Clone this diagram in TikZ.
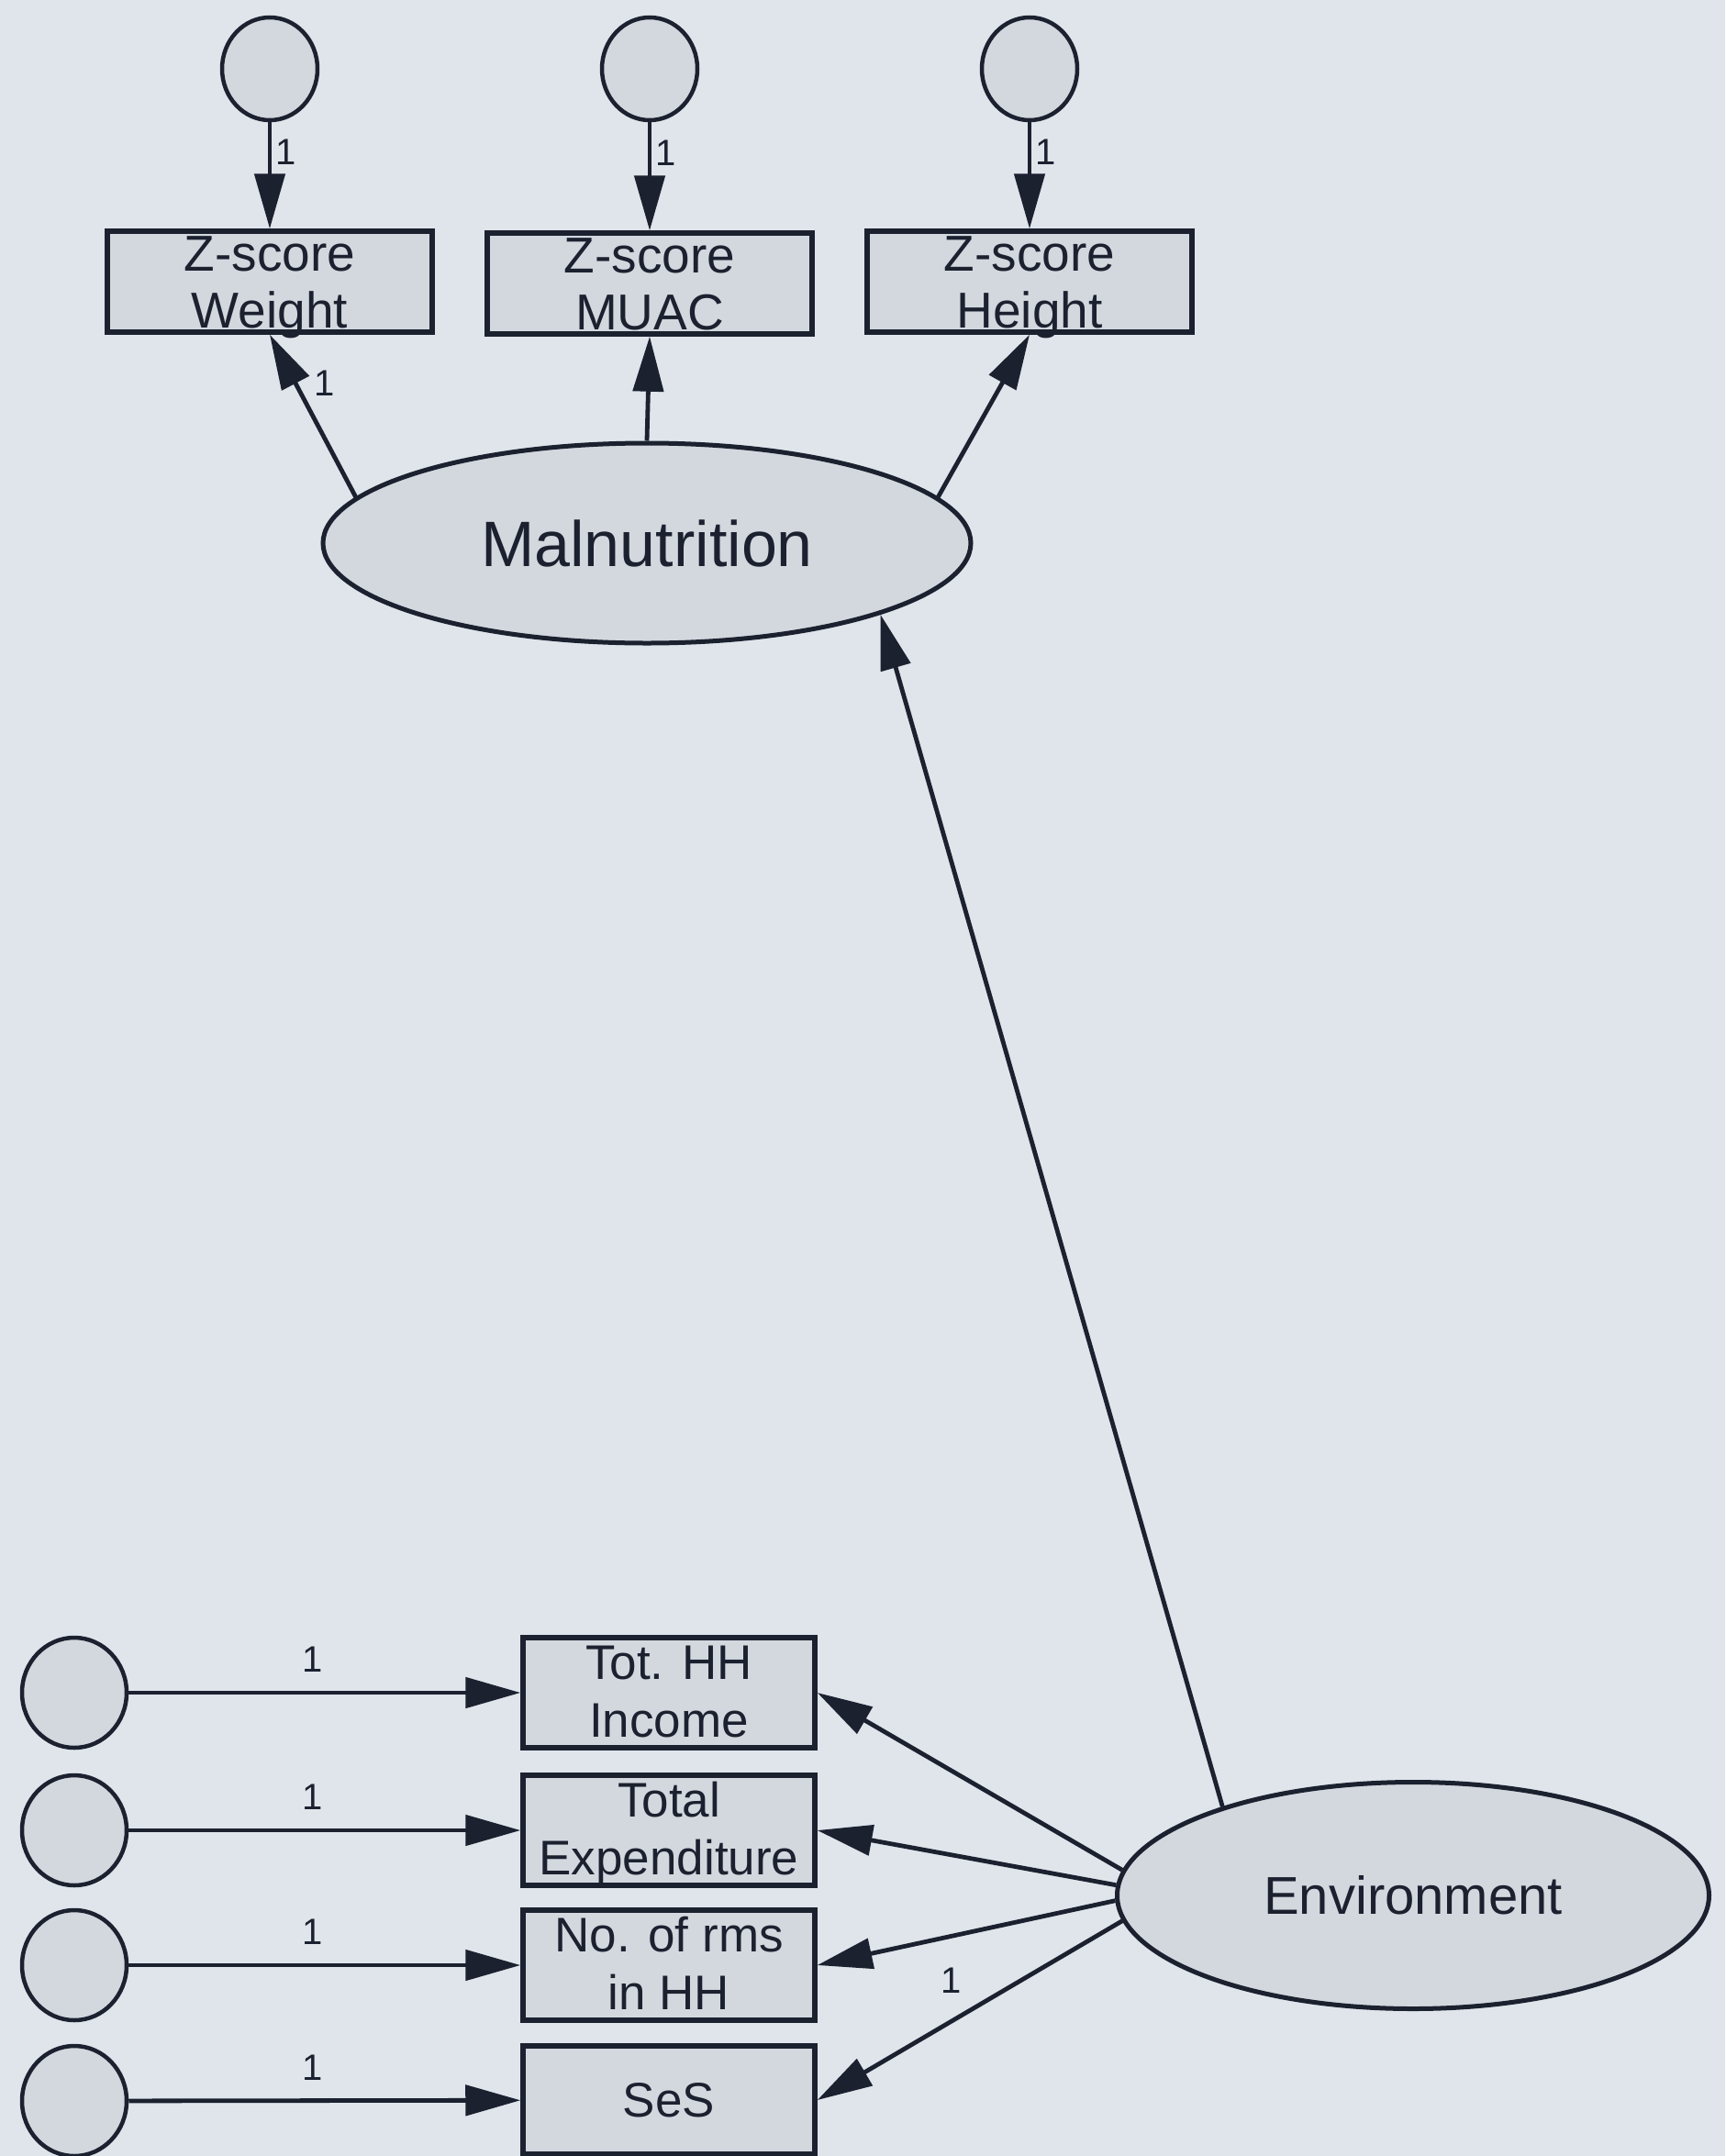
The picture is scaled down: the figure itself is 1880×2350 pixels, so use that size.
\documentclass[tikz,border=0pt]{standalone}
\usepackage{fontspec}
\setmainfont{Liberation Sans}
\usetikzlibrary{shapes.geometric,arrows.meta}
\definecolor{paper}{RGB}{223,229,235}
\definecolor{ink}{RGB}{28,33,48}
\definecolor{shade}{RGB}{211,216,223}
\newcommand{\twoline}[3][50]{\smash{\raisebox{-#1pt}{\begin{tabular}[b]{@{}c@{}}#2\\#3\end{tabular}}}}

\begin{document}
\begin{tikzpicture}[x=1pt, y=-1pt, line width=4.8pt, color=ink,
    >={Triangle[length=60pt,width=33pt]},
    obs/.style={rectangle, draw, fill=shade, line width=5.5pt, inner sep=0pt},
    top/.style={obs, minimum width=354pt, minimum height=110pt, font=\fontsize{55}{62}\selectfont},
    bot/.style={obs, minimum width=318pt, minimum height=120pt, font=\fontsize{53}{63}\selectfont},
    lat/.style={ellipse, draw, fill=shade, line width=5pt, inner sep=0pt},
    err/.style={ellipse, draw, fill=shade, line width=4.5pt, inner sep=0pt, minimum width=104pt, minimum height=112pt},
    one/.style={font=\fontsize{40}{44}\selectfont, inner sep=4pt}]
  \fill[paper] (0,0) rectangle (1880,2350);
  \useasboundingbox (0,0) rectangle (1880,2350);

  \node [err] (e1) at (294,75) {};
  \node [err] (e2) at (708,75) {};
  \node [err] (e3) at (1122,75) {};
  \node [top] (zw) at (294,307) {\twoline{Z-score}{Weight}};
  \node [top] (zm) at (708,309) {\twoline{Z-score}{MUAC}};
  \node [top] (zh) at (1122,307) {\twoline{Z-score}{Height}};
  \node [lat, minimum width=706pt, minimum height=218pt, font=\fontsize{70}{80}\selectfont] (mal) at (705,592) {Malnutrition};

  \node [lat, minimum width=645pt, minimum height=247pt, font=\fontsize{58}{66}\selectfont] (env) at (1540,2066) {Environment};
  \node [bot] (inc) at (729,1845) {\twoline[48]{Tot. HH}{Income}};
  \node [bot] (exp) at (729,1995) {\twoline[48]{Total}{Expenditure}};
  \node [bot] (rms) at (729,2142) {\twoline[48]{No. of rms}{in HH}};
  \node [bot, minimum height=118pt] (ses) at (729,2289) {SeS};
  \node [err, minimum width=114pt, minimum height=120pt] (d1) at (81,1845) {};
  \node [err, minimum width=114pt, minimum height=120pt] (d2) at (81,1995) {};
  \node [err, minimum width=114pt, minimum height=120pt] (d3) at (81,2142) {};
  \node [err, minimum width=114pt, minimum height=120pt] (d4) at (81,2290) {};

  \path [->]
  (e1) edge node [one, right, pos=0.28] {1} (zw)
  (e2) edge node [one, right, pos=0.28] {1} (zm)
  (e3) edge node [one, right, pos=0.28] {1} (zh)
  (mal.171) edge node [one, right, pos=0.7, xshift=14pt] {1} (zw.south)
  (mal.90) edge (zm.south)
  (mal.9) edge (zh.south)
  (env.155) edge (mal.343)
  (env.175) edge (inc.east)
  (env.178) edge (exp.east)
  (env.181) edge (rms.east)
  (env.185) edge node [one, above=24pt, pos=0.56] {1} (ses.east)
  (d1) edge node [one, above=16pt, pos=0.47] {1} (inc)
  (d2) edge node [one, above=16pt, pos=0.47] {1} (exp)
  (d3) edge node [one, above=16pt, pos=0.47] {1} (rms)
  (d4) edge node [one, above=16pt, pos=0.47] {1} (ses)
  ;
\end{tikzpicture}
\end{document}
